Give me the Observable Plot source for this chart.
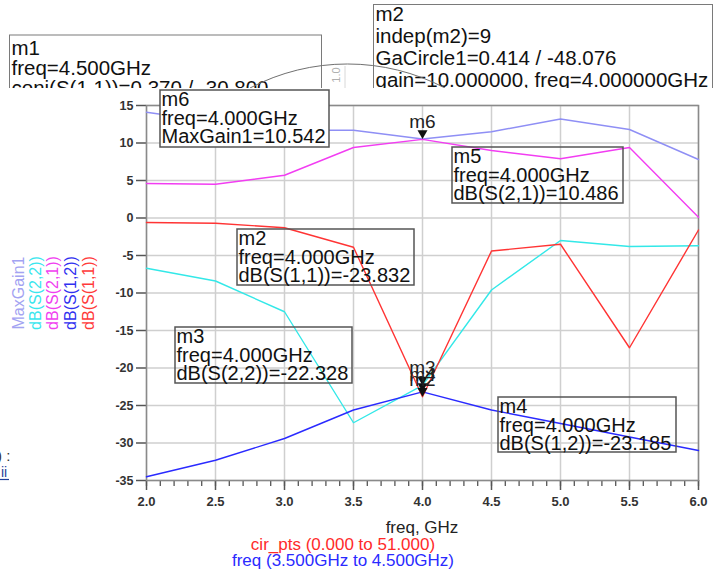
<!DOCTYPE html>
<html><head><meta charset="utf-8">
<script src="https://cdn.jsdelivr.net/npm/d3@7"></script>
<script src="https://cdn.jsdelivr.net/npm/@observablehq/plot@0.6"></script>
<style>html,body{margin:0;padding:0;background:#fff;overflow:hidden;} #chart svg{display:block;}
g[aria-label="x-axis tick label"], g[aria-label="y-axis tick label"]{font-weight:bold;}</style>
</head><body><div id="chart"></div>
<script>
// ---- data ----
const freq = [2.0, 2.5, 3.0, 3.5, 4.0, 4.5, 5.0, 5.5, 6.0];
const maxGain1 = [14.1, 12.8, 11.7, 11.7, 10.542, 11.5, 13.2, 11.8, 7.8];
const dbS22 = [-6.7, -8.4, -12.5, -27.3, -22.328, -9.6, -3.0, -3.8, -3.7];
const dbS21 = [4.6, 4.5, 5.7, 9.4, 10.486, 9.0, 7.9, 9.4, 0.1];
const dbS12 = [-34.5, -32.3, -29.4, -25.6, -23.185, -25.6, -27.4, -29.2, -31.0];
const dbS11 = [-0.6, -0.7, -1.3, -3.9, -23.832, -4.4, -3.5, -17.3, -1.6];
const seriesNames = ["MaxGain1", "dB(S(2,2))", "dB(S(2,1))", "dB(S(1,2))", "dB(S(1,1))"];
const seriesValues = [maxGain1, dbS22, dbS21, dbS12, dbS11];
const seriesColors = ["#8f8ff5", "#33e8e8", "#f23df2", "#2a2aff", "#ff3434"];
const legendColors = ["#a3a3f2", "#3ae6ee", "#f040f0", "#3030f0", "#ff3a3a"];

const yTicks = [-35, -30, -25, -20, -15, -10, -5, 0, 5, 10, 15];
const xMajorTicks = [2.0, 2.5, 3.0, 3.5, 4.0, 4.5, 5.0, 5.5, 6.0];
const xMinorTicks = d3.range(20, 61).map(d => d / 10);

const markerNames = ["m6", "m2", "m3", "m4"];
const markerFreq = [4.0, 4.0, 4.0, 4.0];
const markerValues = [10.542, -23.832, -22.328, -23.185];

const boxTexts = [
  ["m6", "freq=4.000GHz", "MaxGain1=10.542"],
  ["m5", "freq=4.000GHz", "dB(S(2,1))=10.486"],
  ["m2", "freq=4.000GHz", "dB(S(1,1))=-23.832"],
  ["m3", "freq=4.000GHz", "dB(S(2,2))=-22.328"],
  ["m4", "freq=4.000GHz", "dB(S(1,2))=-23.185"]
];
const topBoxTexts = [
  ["m1", "freq=4.500GHz", "conj(S(1,1))=0.370 / -30.800"],
  ["m2", "indep(m2)=9", "GaCircle1=0.414 / -48.076", "gain=10.000000, freq=4.000000GHz"]
];
const xLabel = "freq, GHz";
const sweepLabels = ["cir_pts (0.000 to 51.000)", "freq (3.500GHz to 4.500GHz)"];

// ---- layout (pixels) ----
const boxLayout = [ // left, top, width, height
  [160, 90, 169, 57], [452, 147, 171, 56], [237, 229, 177, 56], [175, 327, 177, 56], [498, 397, 178, 55]
];
const topBoxLayout = [[9.5, 35, 312, 80, 20, 20], [373.5, 4.5, 339, 100, 22, 16.5]];
const FONT = "'Liberation Sans', Arial, Helvetica, sans-serif";

const rows = freq.flatMap((f, i) => seriesNames.map((s, k) => ({freq: f, value: seriesValues[k][i], series: s})));
const markers = markerNames.map((m, i) => ({name: m, freq: markerFreq[i], value: markerValues[i]}));

const plot = Plot.plot({
  width: 721, height: 569,
  marginLeft: 146, marginRight: 23, marginTop: 105, marginBottom: 89,
  style: {fontFamily: FONT, background: "#fff", overflow: "visible"},
  x: {domain: [2, 6]},
  y: {domain: [-35, 15]},
  color: {domain: seriesNames, range: seriesColors},
  marks: [
    Plot.gridX(xMajorTicks, {stroke: "#cfcfcf", strokeOpacity: 1, strokeWidth: 1.5}),
    Plot.gridY(yTicks, {stroke: "#cfcfcf", strokeOpacity: 1, strokeWidth: 1.5}),
    Plot.axisX(xMinorTicks, {tickSize: 6, tickFormat: () => "", label: null, stroke: "#555", strokeWidth: 1.3}),
    Plot.axisX(xMajorTicks, {tickSize: 10, tickPadding: 6, tickFormat: d => d.toFixed(1), label: null,
      fontSize: 13, fontWeight: "bold", fill: "#333", stroke: "#555", strokeWidth: 1.5}),
    Plot.axisY(yTicks, {tickSize: 10, tickPadding: 3, tickFormat: d => String(d), label: null,
      fontSize: 12.5, fontWeight: "bold", fill: "#333", stroke: "#555", strokeWidth: 1.5}),
    Plot.frame({stroke: "#8a8a8a", strokeWidth: 1.5}),
    Plot.line(rows, {x: "freq", y: "value", z: "series", stroke: "series", strokeWidth: 1.4}),
    Plot.dot(markers, {x: "freq", y: "value", symbol: "triangle", rotate: 180, r: 3.7, fill: "#111", stroke: null, dy: -5.8}),
    Plot.text(markers, {x: "freq", y: "value", text: "name", dy: -11, lineAnchor: "bottom", fontSize: 19, fill: "#222"})
  ]
});
document.getElementById("chart").appendChild(plot);

const svg = d3.select(plot);
svg.selectAll('g[aria-label="x-axis tick label"] text, g[aria-label="y-axis tick label"] text')
  .attr("font-weight", "bold").style("font-weight", "bold");

const addText = (sel, x, y, t, size, fill, anchor = "start") =>
  sel.append("text").attr("x", x).attr("y", y).attr("text-anchor", anchor)
    .attr("font-family", FONT).attr("font-size", size).attr("fill", fill).text(t);

// top (clipped) area with Smith-chart remnants
svg.append("defs").append("clipPath").attr("id", "topclip")
  .append("rect").attr("x", 0).attr("y", 0).attr("width", 721).attr("height", 88);
const topG = svg.append("g").attr("clip-path", "url(#topclip)");
topBoxTexts.forEach((lines, b) => {
  const [x, y, w, h, step, first] = topBoxLayout[b];
  topG.append("rect").attr("x", x).attr("y", y).attr("width", w).attr("height", h)
    .attr("fill", "none").attr("stroke", "#7a7a7a").attr("stroke-width", 1);
  lines.forEach((t, i) => addText(topG, x + 2, y + first + i * step, t, 20.5, "#111"));
});
topG.append("line").attr("x1", 345).attr("x2", 345).attr("y1", 66).attr("y2", 90)
  .attr("stroke", "#d8d8d8").attr("stroke-width", 1);
topG.append("path").attr("d", "M250,88 A210,210 0 0 1 445,88").attr("fill", "none")
  .attr("stroke", "#707070").attr("stroke-width", 1);
topG.append("text").attr("transform", "translate(340,75) rotate(-90)").attr("text-anchor", "middle")
  .attr("font-family", FONT).attr("font-size", 11).attr("fill", "#b0b0b0").text("1.0");

// marker readout boxes
boxTexts.forEach((lines, b) => {
  const [x, y, w, h] = boxLayout[b];
  svg.append("rect").attr("x", x).attr("y", y).attr("width", w).attr("height", h)
    .attr("fill", b === 0 ? "#fff" : "none").attr("stroke", "#555").attr("stroke-width", 1.5);
  lines.forEach((t, i) => addText(svg, x + 1.5, y + 16 + i * 18.5, t, 20, "#111"));
});

// rotated legend
const legendX = [18.5, 35.5, 52.5, 70, 88.5];
seriesNames.forEach((s, i) => {
  svg.append("text").attr("transform", `translate(${legendX[i]},293) rotate(-90)`)
    .attr("text-anchor", "middle").attr("dy", "0.35em")
    .attr("font-family", FONT).attr("font-size", 16).attr("fill", legendColors[i]).text(s);
});

// axis title and sweep notes
addText(svg, 422, 533, xLabel, 17, "#222", "middle");
addText(svg, 343, 550, sweepLabels[0], 17, "#ff2a2a", "middle");
addText(svg, 343, 566, sweepLabels[1], 17, "#2a2aff", "middle");

// clipped UI remnants at the left edge
addText(svg, -3, 461, ") :", 15, "#333");
addText(svg, 1, 477, "ii", 14, "#1f3f99");
svg.append("line").attr("x1", 0).attr("x2", 9).attr("y1", 479.5).attr("y2", 479.5)
  .attr("stroke", "#1f3f99").attr("stroke-width", 1.2);
</script>
</body></html>
